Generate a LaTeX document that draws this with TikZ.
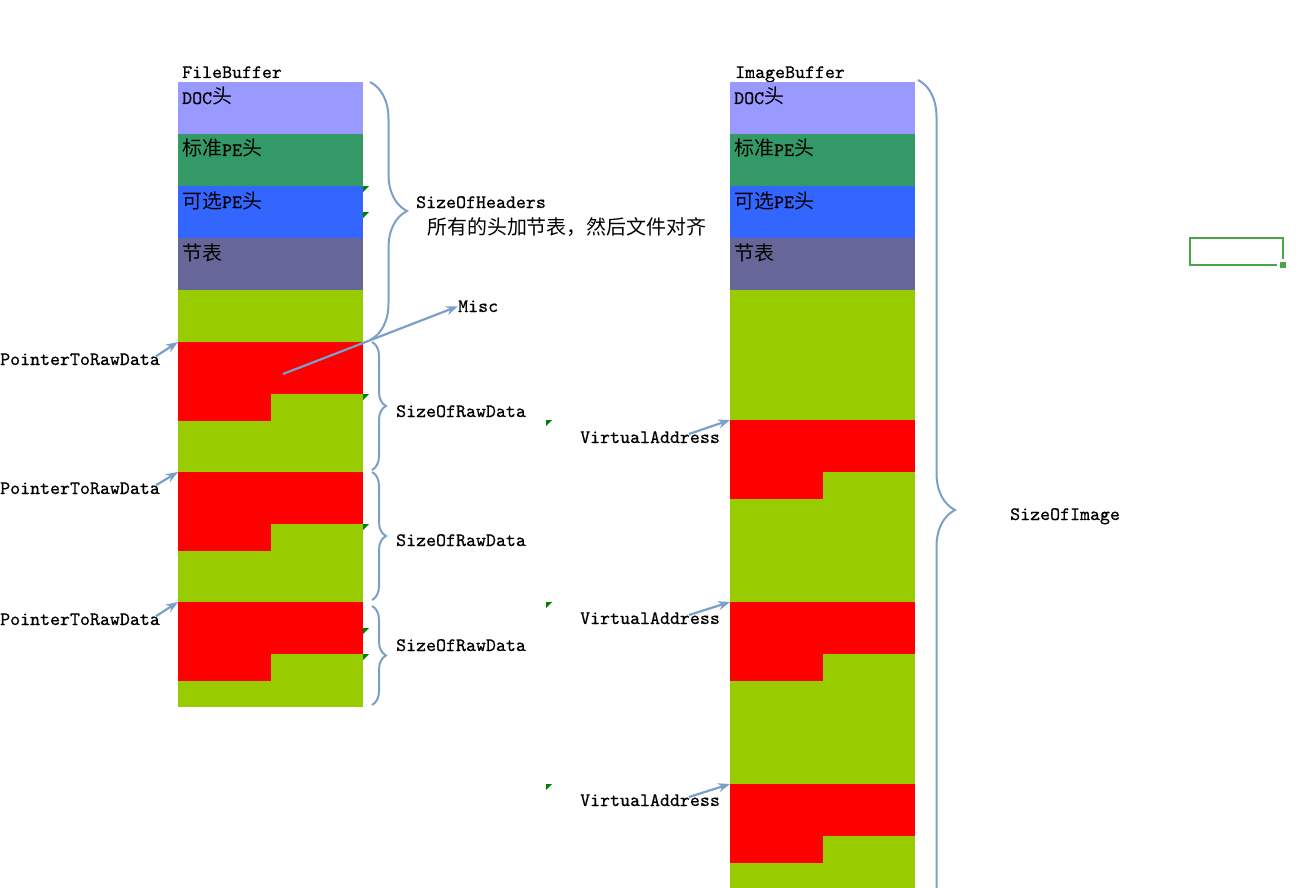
\documentclass[tikz,border=0pt]{standalone}
\usepackage{fontspec}
\newfontfamily\cjk[Scale=1.05]{Noto Sans CJK SC}
\newfontfamily\cellmono[FakeBold=0.6]{lmmono10-regular.otf}
\usetikzlibrary{arrows.meta,decorations.pathreplacing}

\definecolor{docblue}{RGB}{153,153,255}
\definecolor{pegreen}{RGB}{51,153,102}
\definecolor{optblue}{RGB}{51,102,255}
\definecolor{secgray}{RGB}{102,102,153}
\definecolor{padgreen}{RGB}{153,204,0}
\definecolor{secred}{RGB}{255,0,0}
\definecolor{linkblue}{RGB}{122,160,202}
\definecolor{notegreen}{RGB}{0,128,0}
\definecolor{selgreen}{RGB}{72,166,72}

\tikzset{
  cell/.style={anchor=north west, inner sep=0, minimum width=185pt, minimum height=52pt},
  halfcell/.style={cell, fill=secred, minimum width=93pt, minimum height=27pt},
  txt/.style={anchor=base west, inner sep=0, font=\fontsize{19}{22}\selectfont\cellmono},
  link/.style={linkblue, line width=2.2pt, -{Stealth[length=12pt,width=9pt]}},
  bracebig/.style={linkblue, line width=2pt, decorate, decoration={brace, amplitude=37pt}},
  bracesmall/.style={linkblue, line width=2pt, decorate, decoration={brace, amplitude=14pt}},
  note/.style={fill=notegreen}
}

\begin{document}
\begin{tikzpicture}[x=1pt,y=-1pt]
    \clip (0,0) rectangle (1306,888);

    % FileBuffer column
    \node[txt] (fbuf) at (182,78) {FileBuffer};
    \node[cell, fill=docblue] (fdoc) at (178,82) {};
    \node[cell, fill=pegreen] (fnt) at (178,134) {};
    \node[cell, fill=optblue] (fopt) at (178,186) {};
    \node[cell, fill=secgray] (fsec) at (178,238) {};
    \node[cell, fill=padgreen, minimum height=417pt] (fpad) at (178,290) {};
    \foreach \i/\y in {1/342,2/472,3/602} {
        \node[cell, fill=secred] (fraw\i) at (178,\y) {};
        \node[halfcell] (fraw\i t) at (178,\y+52) {};
    }

    \node[txt] (fdoct) at (182,104) {DOC{\cjk 头}};
    \node[txt] (fntt) at (182,156) {{\cjk 标准}PE{\cjk 头}};
    \node[txt] (fopts) at (182,208) {{\cjk 可选}PE{\cjk 头}};
    \node[txt] (fsect) at (182,260) {{\cjk 节表}};

    % ImageBuffer column
    \node[txt] (ibuf) at (735,78) {ImageBuffer};
    \node[cell, fill=docblue] (idoc) at (730,82) {};
    \node[cell, fill=pegreen] (int) at (730,134) {};
    \node[cell, fill=optblue] (iopt) at (730,186) {};
    \node[cell, fill=secgray] (isec) at (730,238) {};
    \node[cell, fill=padgreen, minimum height=620pt] (ipad) at (730,290) {};
    \foreach \i/\y in {1/420,2/602,3/784} {
        \node[cell, fill=secred] (iraw\i) at (730,\y) {};
        \node[halfcell] (iraw\i t) at (730,\y+52) {};
    }

    \node[txt] (idoct) at (734,104) {DOC{\cjk 头}};
    \node[txt] (intt) at (734,156) {{\cjk 标准}PE{\cjk 头}};
    \node[txt] (iopts) at (734,208) {{\cjk 可选}PE{\cjk 头}};
    \node[txt] (isect) at (734,260) {{\cjk 节表}};

    % braces
    \draw[bracebig] (370,82) -- (370,340);
    \draw[bracesmall] (372,342) -- (372,470);
    \draw[bracesmall] (372,472) -- (372,600);
    \draw[bracesmall] (372,606) -- (372,705);
    \draw[bracebig] (918,80) -- (918,940);

    \node[txt] (hdr) at (416,208) {SizeOfHeaders};
    \node[txt] (hdrnote) at (427,234) {{\cjk 所有的头加节表，然后文件对齐}};
    \node[txt] (raw1) at (396,417) {SizeOfRawData};
    \node[txt] (raw2) at (396,546) {SizeOfRawData};
    \node[txt] (raw3) at (396,651) {SizeOfRawData};
    \node[txt] (img) at (1010,520) {SizeOfImage};

    % pointers
    \node[txt] (ptr1) at (0,365) {PointerToRawData};
    \node[txt] (ptr2) at (0,494) {PointerToRawData};
    \node[txt] (ptr3) at (0,625) {PointerToRawData};
    \draw[link] ([xshift=-4pt,yshift=-3pt]ptr1.north east) -- (fraw1.north west);
    \draw[link] ([xshift=-4pt,yshift=-3pt]ptr2.north east) -- (fraw2.north west);
    \draw[link] ([xshift=-4pt,yshift=-3pt]ptr3.north east) -- (fraw3.north west);

    \node[txt] (va1) at (580,443) {VirtualAddress};
    \node[txt] (va2) at (580,624) {VirtualAddress};
    \node[txt] (va3) at (580,806) {VirtualAddress};
    \draw[link] ([xshift=-31pt,yshift=-3pt]va1.north east) -- (iraw1.north west);
    \draw[link] ([xshift=-31pt,yshift=-3pt]va2.north east) -- (iraw2.north west);
    \draw[link] ([xshift=-31pt,yshift=-3pt]va3.north east) -- (iraw3.north west);

    \node[txt] (misc) at (458,312) {Misc};
    \coordinate (miscfrom) at (283,374);
    \draw[link] (miscfrom) -- (misc.west);

    % comment marks
    \foreach \x/\y in {363/186,363/212,363/394,363/524,363/628,363/654,546/420,546/602,546/784}
        \fill[note] (\x,\y) -- ++(6,0) -- ++(-6,6) -- cycle;

    % selected cell
    \draw[selgreen, line width=2.7pt] (1190,238) rectangle (1283,265);
    \fill[white] (1277,259) rectangle (1288,270);
    \fill[selgreen] (1280,262) rectangle (1285.5,267.5);
\end{tikzpicture}
\end{document}
